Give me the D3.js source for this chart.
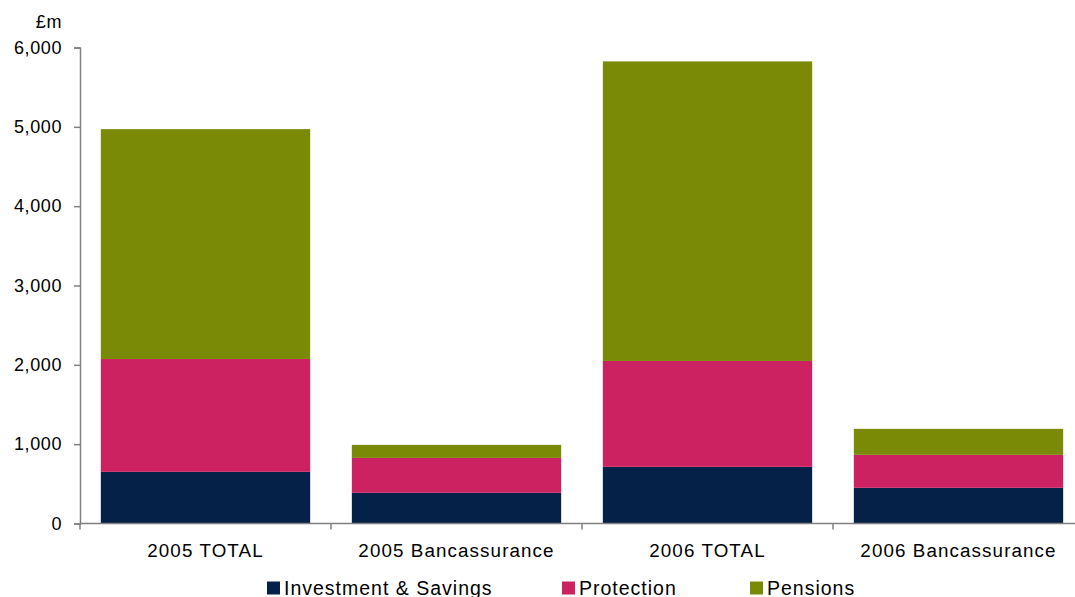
<!DOCTYPE html>
<html>
<head>
<meta charset="utf-8">
<script src="https://cdn.jsdelivr.net/npm/d3@7"></script>
<style>
  html, body { margin: 0; padding: 0; background: #fff; }
  svg { display: block; font-family: "Liberation Sans", Arial, sans-serif; }
</style>
</head>
<body>
<svg id="chart" width="1075" height="597"></svg>
<script>
// Categories and stacked series values (£m)
const categories = ["2005 TOTAL", "2005 Bancassurance", "2006 TOTAL", "2006 Bancassurance"];
const investmentSavings = [651, 387, 714, 450];
const protection = [1423, 440, 1335, 415];
const pensions = [2897, 164, 3776, 328];
const seriesNames = ["Investment & Savings", "Protection", "Pensions"];
const seriesColors = ["#062148", "#CC2262", "#7A8A07"];
const yTicks = [0, 1000, 2000, 3000, 4000, 5000, 6000];

const rows = categories.map((c, i) => ({
  cat: c,
  "Investment & Savings": investmentSavings[i],
  "Protection": protection[i],
  "Pensions": pensions[i]
}));

const svg = d3.select("#chart");
const plotLeft = 80, plotRight = 1084, plotTop = 47.5, plotBottom = 523.5;

const x = d3.scaleBand().domain(categories).range([plotLeft, plotRight]).paddingInner(0.166).paddingOuter(0.083);
const y = d3.scaleLinear().domain([0, 6000]).range([plotBottom, plotTop]);

const stack = d3.stack().keys(seriesNames)(rows);

// Stacked bars
svg.append("g").selectAll("g").data(stack).join("g")
  .attr("fill", (d, i) => seriesColors[i])
  .selectAll("rect").data(d => d).join("rect")
  .attr("x", d => x(d.data.cat))
  .attr("width", x.bandwidth())
  .attr("y", d => y(d[1]))
  .attr("height", d => y(d[0]) - y(d[1]));

const axisColor = "#808080";

// Y axis
const yAxis = svg.append("g").attr("transform", `translate(${plotLeft},0)`)
  .call(d3.axisLeft(y).tickValues(yTicks).tickSize(6).tickPadding(12)
    .tickFormat(d3.format(",")));
yAxis.select(".domain").attr("stroke", axisColor).attr("stroke-width", 1.5);
yAxis.selectAll(".tick line").attr("stroke", axisColor).attr("stroke-width", 1.5);
yAxis.selectAll("text").attr("font-size", 18).attr("fill", "#000")
  .attr("letter-spacing", "0.6px")
  .attr("font-family", "Liberation Sans, Arial, sans-serif");

// X axis line with boundary ticks between categories
const xg = svg.append("g");
xg.append("line").attr("x1", plotLeft).attr("x2", 1075).attr("y1", plotBottom).attr("y2", plotBottom)
  .attr("stroke", axisColor).attr("stroke-width", 1.5);
const step = x.step();
const bounds = d3.range(categories.length + 1).map(i => plotLeft + i * step);
xg.selectAll("line.b").data(bounds).join("line").attr("class", "b")
  .attr("x1", d => d).attr("x2", d => d)
  .attr("y1", plotBottom).attr("y2", plotBottom + 6)
  .attr("stroke", axisColor).attr("stroke-width", 1.5);
xg.selectAll("text").data(categories).join("text")
  .attr("x", d => x(d) + x.bandwidth() / 2)
  .attr("y", 557)
  .attr("text-anchor", "middle")
  .attr("font-size", 18.8)
  .attr("letter-spacing", "1.1px")
  .text(d => d);

// Unit label
svg.append("text").attr("x", 62).attr("y", 28).attr("text-anchor", "end")
  .attr("font-size", 18).attr("letter-spacing", "0.6px").text("£m");

// Legend
const legendX = [267, 562, 750];
const lg = svg.append("g").selectAll("g").data(seriesNames).join("g")
  .attr("transform", (d, i) => `translate(${legendX[i]},581.5)`);
lg.append("rect").attr("width", 13).attr("height", 13).attr("fill", (d, i) => seriesColors[i]);
lg.append("text").attr("x", 17).attr("y", 13.5).attr("font-size", 19.5)
  .attr("letter-spacing", "1px").text(d => d);
</script>
</body>
</html>
